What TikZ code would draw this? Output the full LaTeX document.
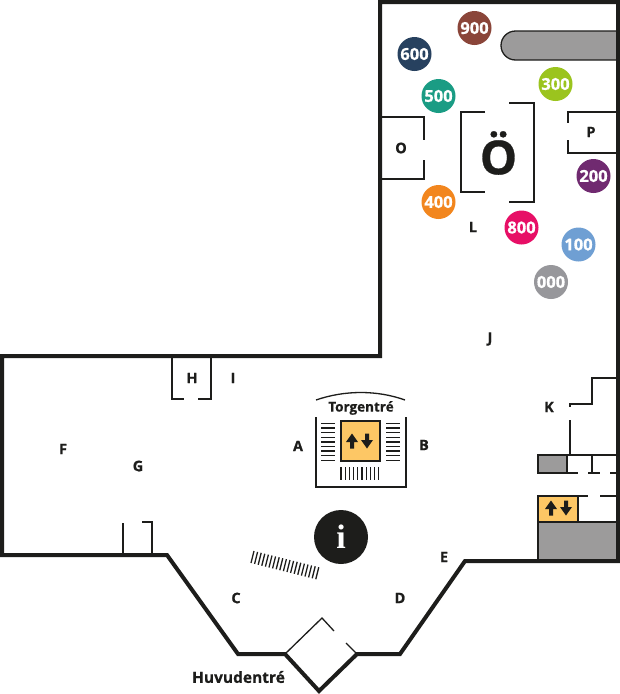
\documentclass[tikz,border=0pt]{standalone}
\usepackage{fontspec}
\setmainfont[BoldFeatures={FakeBold=0.6}]{Open Sans}
\newfontfamily\infofont{Liberation Serif}
\definecolor{ink}{HTML}{1D1D1B}
\definecolor{wallgray}{HTML}{9C9B9B}
\definecolor{lift}{HTML}{FDC765}
\tikzset{
	wall/.style={line width=4pt, draw=ink},
	thinwall/.style={line width=1.3pt, draw=ink},
	hatch/.style={line width=1.3pt, draw=ink},
	room/.style={font=\fontsize{14.5}{14.5}\selectfont\bfseries, text=ink, inner sep=0pt},
	dept/.style={circle, minimum size=34pt, inner sep=0pt, text=white, font=\fontsize{16.5}{16.5}\selectfont\bfseries},
	updown/.pic={\fill[ink](0,-7.5)--(6,1)--(2,1)--(2,7.5)--(-2,7.5)--(-2,1)--(-6,1)--cycle;},
}
\begin{document}
\begin{tikzpicture}[x=1pt, y=-1pt]
	\useasboundingbox (0,0) rectangle (620,694);
	\fill[white](0,0) rectangle (620,694);
	% grey blocks and lift
	\filldraw[fill=wallgray, thinwall](617,31)--(515.5,31) arc (-90:-270:14.5)--(617,60);
	\filldraw[fill=wallgray, thinwall](538,455) rectangle (567,473);
	\filldraw[fill=wallgray, thinwall](538,522) rectangle (617,561);
	\filldraw[fill=lift, thinwall](538,496) rectangle (578,522);
	\filldraw[fill=lift, line width=1.5pt, draw=ink](341,421) rectangle (380,461);
	% outer wall
	\draw[wall, line join=miter](380,2)--(618,2)--(618,561)--(465,561)--(400,654)--(357,654)--(319,691)--(285,654)--(238,654)--(167,555)--(2,555)--(2,356)--(380,356)--cycle;
	\draw[thinwall](285,654)--(322,618)--(334,631);%Door
	\draw[thinwall](346,643)--(357,654);
	% rooms
	\draw[thinwall](382,117)--(424,117)--(424,140);%O
	\draw[thinwall](424,160)--(424,179)--(382,179);
	\draw[thinwall](485,112)--(461,112)--(461,192)--(485,192);%Oe
	\draw[thinwall](509,103)--(534,103)--(534,202)--(509,202);
	\draw[thinwall](617,112)--(568,112)--(568,123);%P
	\draw[thinwall](568,140)--(568,153)--(617,153);
	\draw[thinwall](172,357)--(172,399)--(184,399);%H
	\draw[thinwall](198,399)--(211,399)--(211,357);
	\draw[thinwall](123,523)--(123,555);
	\draw[thinwall](142,522)--(152,522)--(152,555);
	% right side
	\draw[thinwall](616,378)--(592,378)--(592,404)--(570,404)--(570,407);
	\draw[thinwall](570,420)--(570,455);
	\draw[thinwall](567,455)--(617,455);
	\draw[thinwall](592,455)--(592,473);
	\draw[thinwall](567,473)--(578,473);
	\draw[thinwall](588,473)--(600,473);
	\draw[thinwall](610,473)--(617,473);
	\draw[thinwall](578,496)--(588,496);
	\draw[thinwall](600,496)--(617,496);
	\draw[thinwall](578,522)--(617,522);
	% torgentre
	\draw[thinwall](316,400) .. controls (345,390) and (377,390) .. (405,400);
	\draw[thinwall](316,417)--(316,487)--(406,487)--(406,417);
	\foreach \y in {0,...,8}{
		\draw[hatch](321,423.5+\y*4.6)--(335,423.5+\y*4.6);
		\draw[hatch](386,423.5+\y*4.6)--(400,423.5+\y*4.6);
	}
	\foreach \x in {0,...,9}
		\draw[hatch](341+\x*4.2,467)--(341+\x*4.2,480);
	\foreach \i in {0,...,18}
		\draw[hatch](254+\i*3.6,551+\i*0.9)--(251+\i*3.6,563+\i*0.9);
	\pic at (352,441) {updown};
	\pic[yscale=-1] at (367,441) {updown};
	\pic at (551,508) {updown};
	\pic[yscale=-1] at (566,508) {updown};
	\node[circle, fill=ink, minimum size=54pt, inner sep=0pt, text=white, font=\fontsize{34}{34}\infofont\bfseries] (info) at (341,537) {i};
	% departments
	\foreach \x/\y/\col/\num in {474.5/28/8A4539/900, 414.5/54/27415F/600, 438.5/96/1A9C84/500, 555.5/84/9BC41E/300,
		593.5/176/702A70/200, 438.5/202/F2861E/400, 521.5/227.5/E70F66/800, 578.5/244.5/6F9FD3/100, 551/282/97979B/000}{
		\definecolor{deptcol}{HTML}{\col}
		\node[dept, fill=deptcol] (d\num) at (\x,\y) {\num};
	}
	% labels
	\node[font=\fontsize{47}{47}\selectfont\bfseries, text=ink, inner sep=0pt] (oe) at (498.5,153) {Ö};
	\foreach \x/\y/\txt in {401/148/O, 591/132/P, 473/227/L, 490/339/J, 549/407/K, 192/378/H, 233/378/I, 63/449/F,
		138/466/G, 298/446/A, 424/445/B, 236/598/C, 400/598/D, 444/557/E}
		\node[room] (lab\txt) at (\x,\y) {\txt};
	\node[room, font=\fontsize{13.5}{13.5}\selectfont\bfseries] (torg) at (361,408) {Torgentré};
	\node[room, font=\fontsize{15.5}{15.5}\selectfont\bfseries] (huvud) at (238.5,677) {Huvudentré};
\end{tikzpicture}
\end{document}
